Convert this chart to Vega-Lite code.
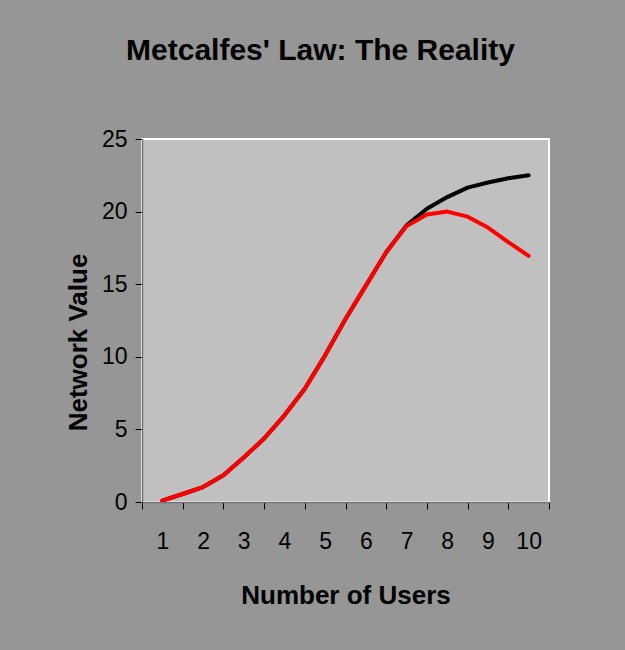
{
  "$schema": "https://vega.github.io/schema/vega-lite/v6.json",
  "autosize": {"type": "none"},
  "padding": {"left": 142, "top": 139, "right": 76, "bottom": 148},
  "width": 407,
  "height": 363,
  "background": "#969696",
  "title": {
    "text": "Metcalfes' Law: The Reality",
    "font": "Liberation Sans",
    "fontSize": 30,
    "fontWeight": "bold",
    "color": "#000000",
    "anchor": "middle",
    "frame": "group",
    "dx": -25,
    "baseline": "alphabetic",
    "offset": 38
  },
  "config": {
    "view": {"fill": "#c0c0c0", "stroke": "#ffffff", "strokeWidth": 2},
    "axis": {
      "grid": false,
      "domainColor": "#707070",
      "domainWidth": 1.5,
      "tickColor": "#000000",
      "tickWidth": 1,
      "tickSize": 7,
      "labelFont": "Liberation Sans",
      "labelFontSize": 23,
      "labelColor": "#000000",
      "titleColor": "#000000",
      "titleFontWeight": "bold"
    }
  },
  "data": {
    "values": [
      {"users": 1, "value": 0.1, "series": "Metcalfe"},
      {"users": 1.5, "value": 0.55, "series": "Metcalfe"},
      {"users": 2, "value": 1.03, "series": "Metcalfe"},
      {"users": 2.5, "value": 1.84, "series": "Metcalfe"},
      {"users": 3, "value": 3.06, "series": "Metcalfe"},
      {"users": 3.5, "value": 4.37, "series": "Metcalfe"},
      {"users": 4, "value": 5.97, "series": "Metcalfe"},
      {"users": 4.5, "value": 7.8, "series": "Metcalfe"},
      {"users": 5, "value": 10.1, "series": "Metcalfe"},
      {"users": 5.5, "value": 12.6, "series": "Metcalfe"},
      {"users": 6, "value": 14.9, "series": "Metcalfe"},
      {"users": 6.5, "value": 17.2, "series": "Metcalfe"},
      {"users": 7, "value": 19.05, "series": "Metcalfe"},
      {"users": 7.5, "value": 20.2, "series": "Metcalfe"},
      {"users": 8, "value": 21.0, "series": "Metcalfe"},
      {"users": 8.5, "value": 21.65, "series": "Metcalfe"},
      {"users": 9, "value": 22.0, "series": "Metcalfe"},
      {"users": 9.5, "value": 22.3, "series": "Metcalfe"},
      {"users": 10, "value": 22.5, "series": "Metcalfe"},
      {"users": 1, "value": 0.1, "series": "Reality"},
      {"users": 1.5, "value": 0.55, "series": "Reality"},
      {"users": 2, "value": 1.03, "series": "Reality"},
      {"users": 2.5, "value": 1.84, "series": "Reality"},
      {"users": 3, "value": 3.06, "series": "Reality"},
      {"users": 3.5, "value": 4.37, "series": "Reality"},
      {"users": 4, "value": 5.97, "series": "Reality"},
      {"users": 4.5, "value": 7.8, "series": "Reality"},
      {"users": 5, "value": 10.1, "series": "Reality"},
      {"users": 5.5, "value": 12.6, "series": "Reality"},
      {"users": 6, "value": 14.9, "series": "Reality"},
      {"users": 6.5, "value": 17.2, "series": "Reality"},
      {"users": 7, "value": 19.0, "series": "Reality"},
      {"users": 7.5, "value": 19.8, "series": "Reality"},
      {"users": 8, "value": 20.0, "series": "Reality"},
      {"users": 8.5, "value": 19.65, "series": "Reality"},
      {"users": 9, "value": 18.9, "series": "Reality"},
      {"users": 9.5, "value": 17.9, "series": "Reality"},
      {"users": 10, "value": 16.95, "series": "Reality"}
    ]
  },
  "encoding": {
    "x": {
      "field": "users",
      "type": "quantitative",
      "scale": {"domain": [0.5, 10.5], "nice": false, "zero": false},
      "axis": {
        "title": "Number of Users",
        "titleFont": "Liberation Sans",
        "titleFontSize": 26,
        "titleBaseline": "alphabetic",
        "titleY": 101,
        "values": [0.5, 1.5, 2.5, 3.5, 4.5, 5.5, 6.5, 7.5, 8.5, 9.5, 10.5],
        "labelExpr": "datum.value < 10 ? format(datum.value + 0.5, 'd') : ''",
        "labelOffset": 20.35,
        "labelPadding": 21,
        "labelFlush": false,
        "labelOverlap": false,
        "labelBound": false
      }
    },
    "y": {
      "field": "value",
      "type": "quantitative",
      "scale": {"domain": [0, 25], "nice": false},
      "axis": {
        "title": "Network Value",
        "titleFont": "Liberation Sans",
        "titleFontSize": 26,
        "titleAngle": -90,
        "titleAlign": "center",
        "titleBaseline": "alphabetic",
        "titleX": -56,
        "titleY": 203,
        "values": [0, 5, 10, 15, 20, 25],
        "labelPadding": 8
      }
    }
  },
  "layer": [
    {
      "transform": [{"filter": "datum.series === 'Metcalfe'"}],
      "mark": {"type": "line", "color": "#000000", "strokeWidth": 4, "strokeCap": "round", "strokeJoin": "round", "clip": true}
    },
    {
      "transform": [{"filter": "datum.series === 'Reality'"}],
      "mark": {"type": "line", "color": "#ff0000", "strokeWidth": 4, "strokeCap": "round", "strokeJoin": "round", "clip": true}
    }
  ]
}
